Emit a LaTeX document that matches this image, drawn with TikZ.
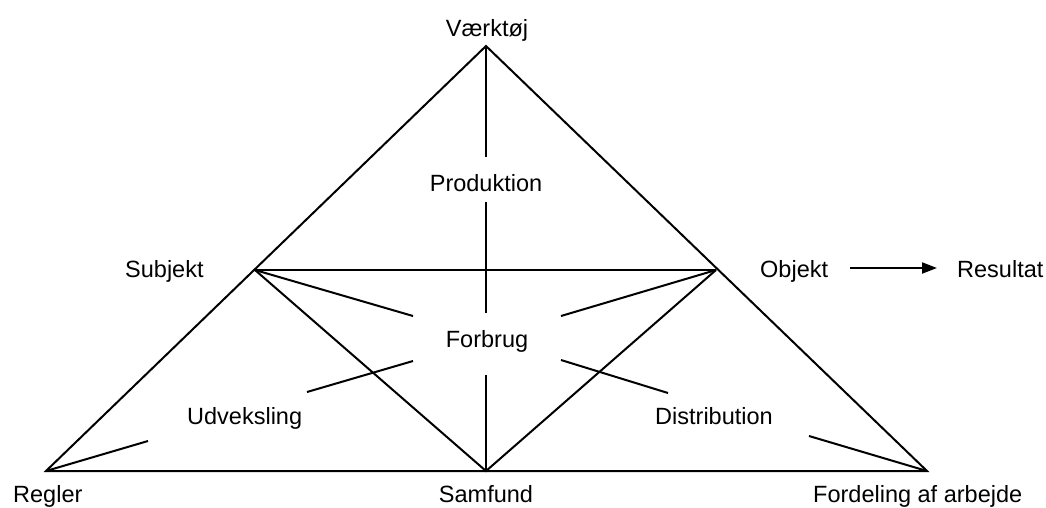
\documentclass[tikz,border=0pt]{standalone}
\usepackage{fontspec}
\setmainfont{Liberation Sans}
\usetikzlibrary{arrows.meta}
\begin{document}
\begin{tikzpicture}[x=1pt,y=-1pt,
  edge/.style={line width=2pt,line join=miter},
  lbl/.style={inner sep=0pt,font=\fontsize{23.5}{28}\selectfont}]
\useasboundingbox (0,0) rectangle (1046,507);
% corners of the triangles
\coordinate (A) at (486,46);
\coordinate (S) at (255,270);
\coordinate (O) at (716,270);
\coordinate (L) at (46,471);
\coordinate (M) at (486,471);
\coordinate (R) at (927,471);
% ends of the broken centre line and the short spokes
\coordinate (v1) at (486,157);
\coordinate (v2) at (486,202);
\coordinate (v3) at (486,313);
\coordinate (v4) at (486,375);
\coordinate (s1) at (413,316);
\coordinate (s2) at (413,361);
\coordinate (s3) at (307,392);
\coordinate (o1) at (561,316);
\coordinate (o2) at (561,360);
\coordinate (o3) at (668,393);
\coordinate (l1) at (148,441);
\coordinate (r1) at (809,436);
% labels
\node[lbl,anchor=base] (vaerktoej) at (487,36) {Værktøj};
\node[lbl,anchor=base] (produktion) at (486,191) {Produktion};
\node[lbl,anchor=base] (forbrug) at (487,347) {Forbrug};
\node[lbl,anchor=base west] (subjekt) at (125,277) {Subjekt};
\node[lbl,anchor=base west] (objekt) at (760,277) {Objekt};
\node[lbl,anchor=base west] (resultat) at (957,277) {Resultat};
\node[lbl,anchor=base west] (udveksling) at (187,424) {Udveksling};
\node[lbl,anchor=base west] (distribution) at (655,424) {Distribution};
\node[lbl,anchor=base west] (regler) at (13,502) {Regler};
\node[lbl,anchor=base] (samfund) at (486,502) {Samfund};
\node[lbl,anchor=base west] (fordeling) at (813,502) {Fordeling af arbejde};
% outer triangle and inner structure
\draw[edge] (L) -- (A) -- (R) -- cycle;
\draw[edge] (S) -- (O);
\draw[edge] (S) -- (M) -- (O);
\draw[edge] (A) -- (v1);
\draw[edge] (v2) -- (v3);
\draw[edge] (v4) -- (M);
\draw[edge] (S) -- (s1);
\draw[edge] (s2) -- (s3);
\draw[edge] (O) -- (o1);
\draw[edge] (o2) -- (o3);
\draw[edge] (L) -- (l1);
\draw[edge] (R) -- (r1);
% result arrow
\coordinate (a1) at (850,268);
\coordinate (a2) at (937,268);
\draw[line width=2pt,-{Triangle[length=15pt,width=11pt]}] (a1) -- (a2);
\end{tikzpicture}
\end{document}
